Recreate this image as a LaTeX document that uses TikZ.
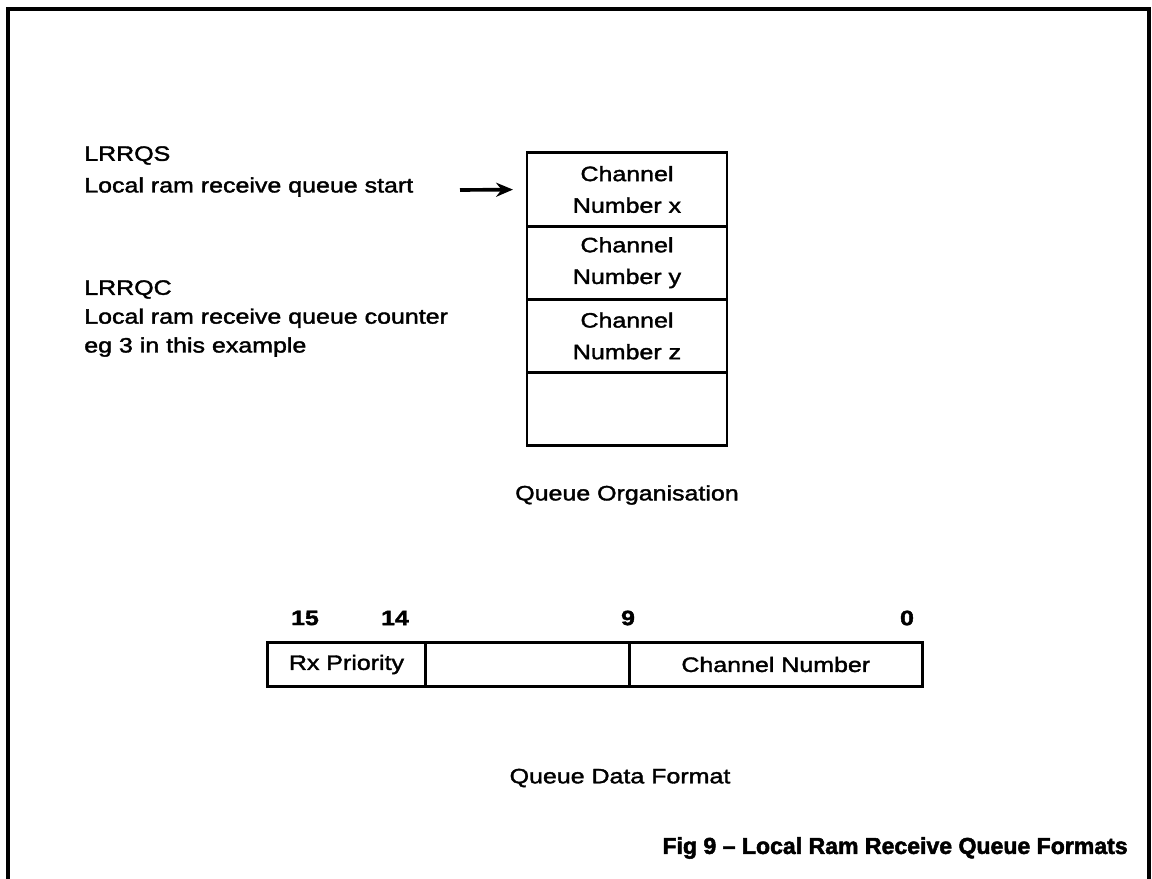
\documentclass[tikz,border=0pt]{standalone}
\usepackage{fontspec}
\setmainfont{Liberation Sans}[FakeStretch=1.2,UprightFeatures={FakeBold=1.8},BoldFeatures={FakeBold=1.8}]
\newfontfamily\titlefont{Liberation Sans}[Ligatures=TeX,BoldFeatures={FakeBold=2.2}]
\usetikzlibrary{arrows.meta,positioning}
\begin{document}
\begin{tikzpicture}[x=.025cm,y=-.025cm,>={Stealth[length=12pt,width=10pt]},
 every node/.style={font=\fontsize{14.8}{22.5}\selectfont,inner sep=0pt},
 c/.style={draw,line width=2pt,outer sep=0pt,minimum width=5cm,minimum height=1.83cm,align=center},
 f/.style={draw,line width=2pt,outer sep=0pt,minimum height=1.08cm},
 t/.style={align=left,anchor=north west},
 n/.style={font=\fontsize{14.8}{22.5}\selectfont\bfseries}]
\useasboundingbox (0,0) rectangle (1152,879);
\draw[line width=2.6pt] (8,879) |- (1149,9) -- (1149,879);
\node[c] (q1) at (627,189.5) {Channel\\Number x};\node[c,below=0pt of q1] (q2) {Channel\\Number y};
\node[c,below=0pt of q2] (q3) {Channel\\Number z};\node[c,below=0pt of q3] (q4) {};
\node[t] (qs) at (84,146) {LRRQS\\Local ram receive queue start};
\node[t,font=\fontsize{14.8}{20.5}\selectfont] (qc) at (84,280) {LRRQC\\Local ram receive queue counter\\eg 3 in this example};
\coordinate (a) at (460,190);\draw[->,line width=2.6pt,shorten >=.35cm] (a)--(q1.west);
\node (qo) at (627,495) {Queue Organisation};
\node[f,minimum width=3.93cm] (f1) at (346.5,664.5) {Rx Priority};
\node[f,minimum width=5.1cm,right=0pt of f1] (f2) {};\node[f,minimum width=7.33cm,right=0pt of f2] (f3) {Channel Number};
\node[n] (b15) at (305,618) {15};\node[n] (b14) at (395,618) {14};\node[n] (b9) at (628,618) {9};\node[n] (b0) at (907,618) {0};
\node (qd) at (620,778) {Queue Data Format};
\node[anchor=east,font=\titlefont\fontsize{16.4}{20}\selectfont\bfseries] (ti) at (1128,848) {Fig 9 – Local Ram Receive Queue Formats};
\end{tikzpicture}
\end{document}
